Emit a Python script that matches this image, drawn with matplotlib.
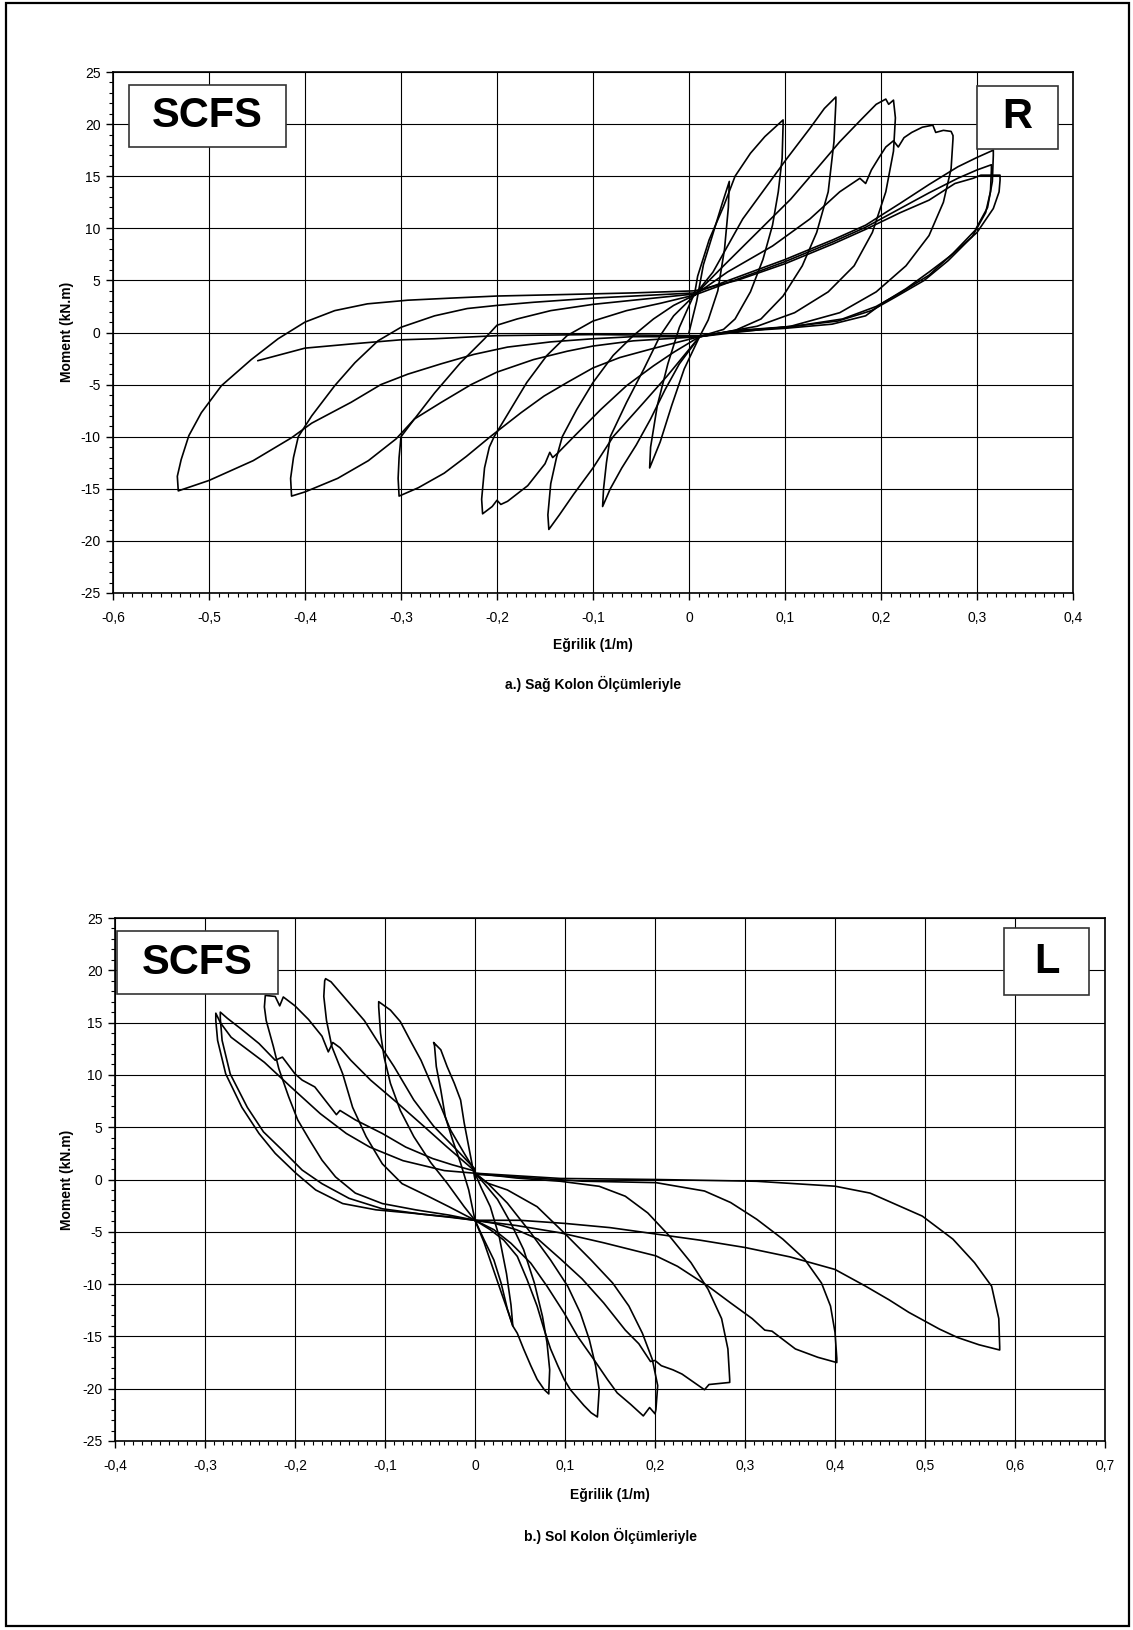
import matplotlib
matplotlib.use("Agg")
import matplotlib.pyplot as plt
from matplotlib.patches import Rectangle
from matplotlib.ticker import MultipleLocator, FuncFormatter

plt.rcParams['font.family'] = ['Liberation Sans', 'DejaVu Sans']
plt.rcParams['axes.unicode_minus'] = False

# ---- top chart (R): curvature (1/m) and moment (kN.m), one list pair per cycle
r1_k = [0.0, 0.008, 0.015, 0.025, 0.035, 0.042,
        0.041, 0.037, 0.030, 0.020, 0.011,
        -0.005, -0.018, -0.030, -0.041,
        -0.040, -0.033, -0.022, -0.010, 0.006]
r1_m = [0.0, 3.0, 6.5, 9.5, 12.5, 14.5,
        12.0, 8.0, 4.0, 1.2, -0.4,
        -3.5, -7.0, -10.5, -13.0,
        -11.0, -7.0, -3.0, 0.5, 3.8]

r2_k = [0.006, 0.009, 0.021, 0.036, 0.048, 0.064, 0.079, 0.098,
        0.098, 0.097, 0.093, 0.087, 0.077, 0.064, 0.048, 0.036, 0.011,
        -0.010, -0.025, -0.040, -0.055, -0.070, -0.082, -0.090,
        -0.089, -0.086, -0.082, -0.065, -0.047, -0.030, -0.016, 0.006]
r2_m = [3.8, 5.4, 8.9, 12.1, 15.0, 17.2, 18.8, 20.4,
        19.9, 16.7, 13.5, 10.3, 7.0, 3.9, 1.3, 0.3, -0.4,
        -3.0, -5.5, -8.3, -10.8, -13.0, -15.0, -16.7,
        -15.0, -12.5, -10.0, -6.7, -3.5, -0.3, 1.6, 3.6]

r3_k = [0.006, 0.025, 0.056, 0.079, 0.102, 0.126, 0.141, 0.153,
        0.153, 0.151, 0.145, 0.133, 0.118, 0.098, 0.075, 0.048, 0.011,
        -0.023, -0.047, -0.079, -0.100, -0.120, -0.135, -0.146,
        -0.147, -0.144, -0.138, -0.132, -0.117, -0.100, -0.079, -0.058, -0.037, -0.016, 0.006]
r3_m = [3.6, 5.8, 10.9, 13.8, 16.7, 19.6, 21.5, 22.6,
        22.1, 18.3, 13.5, 9.6, 6.4, 3.5, 1.3, 0.2, -0.4,
        -4.2, -6.7, -10.0, -13.0, -15.5, -17.5, -18.9,
        -17.5, -14.5, -12.0, -10.0, -7.4, -4.8, -2.2, -0.3, 1.3, 2.6, 3.6]

r4_k = [0.006, 0.036, 0.071, 0.106, 0.133, 0.157, 0.180, 0.195, 0.205, 0.208, 0.213,
        0.215, 0.213, 0.205, 0.191, 0.172, 0.145, 0.110, 0.071, 0.011,
        -0.016, -0.037, -0.065, -0.092, -0.120, -0.137, -0.142, -0.145, -0.150, -0.168,
        -0.189, -0.196, -0.200, -0.205, -0.215,
        -0.216, -0.213, -0.208, -0.203, -0.186, -0.169, -0.148, -0.127, -0.100, -0.065, -0.030, 0.006]
r4_m = [3.6, 6.4, 9.6, 12.8, 15.7, 18.3, 20.5, 21.9, 22.4, 21.9, 22.3,
        20.6, 17.4, 13.5, 9.6, 6.4, 3.9, 1.9, 0.6, -0.4,
        -1.9, -3.2, -5.1, -7.4, -10.0, -11.6, -12.0, -11.5, -12.6, -14.7,
        -16.2, -16.5, -16.1, -16.7, -17.4,
        -16.0, -13.0, -11.0, -10.0, -7.4, -4.8, -2.2, -0.3, 1.1, 2.1, 2.8, 3.6]

r5_k = [0.006, 0.040, 0.087, 0.126, 0.157, 0.178, 0.184, 0.190, 0.198, 0.205, 0.213, 0.218,
        0.224, 0.232, 0.243, 0.254, 0.257, 0.265, 0.273, 0.275,
        0.275, 0.273, 0.265, 0.250, 0.226, 0.195, 0.157, 0.106, 0.048, 0.011,
        -0.040, -0.072, -0.100, -0.127, -0.151, -0.175, -0.207, -0.232, -0.255, -0.282, -0.302,
        -0.303, -0.302, -0.300, -0.286, -0.265, -0.238, -0.213, -0.200, -0.179, -0.144, -0.100,
        -0.058, 0.006]
r5_m = [3.6, 5.8, 8.3, 10.9, 13.5, 14.8, 14.3, 15.6, 16.8, 17.8, 18.4, 17.8,
        18.7, 19.2, 19.7, 19.9, 19.2, 19.4, 19.3, 18.9,
        18.6, 15.7, 12.5, 9.3, 6.4, 3.9, 1.9, 0.6, 0.0, -0.4,
        -1.6, -2.4, -3.4, -4.8, -6.1, -7.7, -10.0, -11.9, -13.5, -14.9, -15.7,
        -14.0, -12.0, -10.0, -8.3, -5.8, -2.9, -0.6, 0.7, 1.3, 2.1, 2.7,
        3.1, 3.7]

r6_k = [0.006, 0.050, 0.100, 0.150, 0.184, 0.220, 0.250, 0.280, 0.300, 0.317,
        0.317, 0.316, 0.311, 0.298, 0.275, 0.250, 0.220, 0.195, 0.160, 0.110, 0.050, 0.011,
        -0.058, -0.100, -0.127, -0.162, -0.200, -0.227, -0.258, -0.286, -0.305, -0.334, -0.366,
        -0.400, -0.414,
        -0.415, -0.412, -0.407, -0.393, -0.369, -0.348, -0.324, -0.300, -0.265, -0.231, -0.200,
        -0.162, -0.100, 0.006]
r6_m = [3.8, 5.3, 7.0, 8.9, 10.3, 12.4, 14.2, 15.9, 16.8, 17.5,
        17.0, 14.5, 12.0, 9.8, 7.6, 5.5, 3.8, 2.5, 1.3, 0.6, 0.2, -0.4,
        -0.8, -1.3, -1.8, -2.6, -3.8, -5.0, -6.7, -8.3, -10.2, -12.3, -14.0,
        -15.3, -15.7,
        -14.0, -12.0, -10.0, -8.0, -5.1, -2.9, -0.8, 0.5, 1.6, 2.3, 2.6,
        2.9, 3.3, 3.8]

r7_k = [0.006, 0.050, 0.100, 0.150, 0.184, 0.220, 0.250, 0.280, 0.300, 0.315,
        0.315, 0.314, 0.309, 0.295, 0.270, 0.245, 0.215, 0.190, 0.155, 0.100, 0.050, 0.011,
        -0.058, -0.100, -0.144, -0.189, -0.224, -0.258, -0.293, -0.321, -0.352, -0.393, -0.414,
        -0.454, -0.500, -0.532,
        -0.533, -0.529, -0.521, -0.508, -0.487, -0.456, -0.428, -0.400, -0.369, -0.335, -0.293,
        -0.248, -0.200, -0.127, -0.058, 0.006]
r7_m = [3.6, 5.1, 6.8, 8.7, 10.1, 11.9, 13.4, 14.8, 15.6, 16.1,
        15.6, 13.5, 11.5, 9.2, 6.9, 5.0, 3.4, 2.1, 1.1, 0.5, 0.15, -0.4,
        -0.4, -0.6, -0.9, -1.4, -2.1, -3.0, -4.0, -5.0, -6.7, -8.7, -10.1,
        -12.3, -14.2, -15.2,
        -13.8, -12.2, -9.9, -7.7, -5.1, -2.6, -0.6, 1.0, 2.1, 2.75, 3.1,
        3.3, 3.5, 3.65, 3.8, 4.0]

r8_k = [0.006, 0.050, 0.100, 0.150, 0.184, 0.220, 0.250, 0.277, 0.296, 0.304, 0.324,
        0.324, 0.323, 0.317, 0.300, 0.273, 0.250, 0.226, 0.203, 0.184, 0.149, 0.100, 0.048, 0.011,
        -0.100, -0.200, -0.265, -0.300, -0.352, -0.400, -0.449]
r8_m = [4.0, 5.0, 6.6, 8.5, 9.9, 11.5, 12.7, 14.3, 14.8, 15.1, 15.1,
        14.6, 13.5, 11.9, 9.6, 7.4, 5.8, 4.2, 2.9, 1.6, 0.8, 0.4, 0.1, -0.3,
        -0.2, -0.3, -0.6, -0.7, -1.1, -1.5, -2.7]

# ---- bottom chart (L)
l1_k = [0.0, -0.007, -0.012, -0.016, -0.023, -0.031, -0.038, -0.046,
        -0.045, -0.043, -0.038, -0.033, -0.025, -0.016, -0.007, 0.0,
        0.010, 0.020, 0.030, 0.037, 0.042,
        0.040, 0.035, 0.027, 0.017, 0.007, 0.0]
l1_m = [0.0, 3.15, 5.4, 7.6, 9.2, 10.8, 12.4, 13.1,
        12.8, 10.8, 8.55, 6.0, 3.8, 1.56, -0.99, -3.9,
        -6.0, -8.5, -11.0, -12.7, -14.0,
        -12.0, -9.0, -5.5, -2.6, -0.8, 0.6]

l2_k = [0.0, -0.012, -0.027, -0.038, -0.049, -0.060, -0.072, -0.083, -0.094, -0.107,
        -0.107, -0.105, -0.101, -0.094, -0.083, -0.068, -0.049, -0.031, -0.012, 0.0,
        0.010, 0.021, 0.029, 0.036, 0.042, 0.047, 0.054, 0.062, 0.069, 0.077, 0.082,
        0.082, 0.083, 0.080, 0.075, 0.066, 0.054, 0.040, 0.025, 0.010, 0.0]
l2_m = [0.8, 2.5, 4.7, 7.0, 9.2, 11.4, 13.3, 15.1, 16.2, 17.0,
        16.5, 14.0, 11.7, 9.2, 6.6, 4.1, 1.6, -0.35, -2.6, -3.9,
        -5.75, -7.7, -9.9, -12.4, -14.0, -14.7, -16.2, -17.8, -19.1, -20.1, -20.5,
        -20.2, -18.2, -15.6, -13.1, -9.9, -6.7, -4.2, -1.9, -0.35, 0.6]

l3_k = [0.0, -0.020, -0.046, -0.068, -0.090, -0.109, -0.123, -0.142, -0.160, -0.166,
        -0.167, -0.168, -0.165, -0.159, -0.147, -0.136, -0.121, -0.103, -0.081, -0.051, -0.029, 0.0,
        0.017, 0.032, 0.047, 0.058, 0.069, 0.077, 0.084, 0.092, 0.099, 0.106, 0.114, 0.121,
        0.129, 0.136,
        0.138, 0.134, 0.127, 0.117, 0.103, 0.084, 0.062, 0.036, 0.014, 0.0]
l3_m = [1.0, 2.8, 5.1, 7.6, 10.8, 13.3, 15.2, 17.1, 18.9, 19.2,
        19.0, 17.5, 15.2, 12.7, 10.1, 6.9, 4.1, 1.5, -0.4, -1.65, -2.6, -3.9,
        -4.8, -5.8, -7.35, -9.6, -12.1, -14.4, -16.2, -17.8, -19.1, -20.1, -20.9, -21.6,
        -22.3, -22.7,
        -20.1, -17.8, -15.3, -12.75, -10.2, -7.7, -5.1, -2.26, -0.35, 0.6]

l4_k = [0.0, -0.031, -0.057, -0.086, -0.116, -0.138, -0.150, -0.158, -0.163, -0.170, -0.185,
        -0.200, -0.213, -0.217, -0.222, -0.233,
        -0.234, -0.232, -0.224, -0.218, -0.207, -0.197, -0.184, -0.170, -0.155, -0.133, -0.103,
        -0.066, -0.029, 0.0,
        0.021, 0.040, 0.062, 0.080, 0.099, 0.114, 0.132, 0.147, 0.158, 0.173, 0.187, 0.194, 0.200,
        0.201, 0.203, 0.197, 0.186, 0.171, 0.153, 0.129, 0.099, 0.069, 0.036, 0.014, 0.0]
l4_m = [0.8, 3.1, 5.1, 7.3, 9.5, 11.4, 12.6, 13.1, 12.2, 13.7, 15.3,
        16.6, 17.45, 16.6, 17.5, 17.6,
        16.5, 15.2, 12.7, 10.6, 7.9, 5.7, 3.8, 1.85, 0.25, -1.3, -2.3,
        -2.9, -3.4, -3.9,
        -4.8, -6.1, -8.0, -10.2, -12.75, -15.0, -17.2, -19.1, -20.4, -21.5, -22.6, -21.8, -22.4,
        -22.0, -19.7, -17.2, -14.7, -12.1, -9.9, -7.7, -5.1, -2.6, -1.0, -0.35, 0.6]

l5_k = [0.0, -0.034, -0.080, -0.117, -0.143, -0.172, -0.204, -0.234, -0.271, -0.283, -0.288,
        -0.288, -0.286, -0.277, -0.259, -0.240, -0.222, -0.199, -0.177, -0.147, -0.110, -0.066,
        -0.029, 0.0,
        0.022, 0.046, 0.070, 0.095, 0.119, 0.143, 0.167, 0.182, 0.195, 0.200, 0.207, 0.220, 0.230,
        0.245, 0.255, 0.260, 0.283,
        0.283, 0.281, 0.274, 0.259, 0.240, 0.216, 0.192, 0.167, 0.138, 0.095, 0.046, 0.0]
l5_m = [0.6, 0.85, 1.8, 3.1, 4.4, 6.3, 8.8, 11.2, 13.6, 15.0, 15.9,
        15.2, 13.3, 10.1, 6.9, 4.4, 2.5, 0.6, -1.0, -2.3, -2.9, -3.25,
        -3.6, -3.9,
        -4.2, -4.8, -5.7, -7.6, -9.5, -11.8, -14.4, -15.7, -17.4, -17.3, -17.8, -18.2, -18.6,
        -19.5, -20.1, -19.6, -19.4,
        -19.1, -16.2, -13.3, -10.5, -7.95, -5.4, -3.2, -1.6, -0.65, -0.17, 0.14, 0.6]

l6_k = [0.0, -0.025, -0.047, -0.077, -0.103, -0.133, -0.150, -0.154, -0.178, -0.192, -0.200,
        -0.214, -0.222, -0.240, -0.260, -0.275, -0.283,
        -0.283, -0.281, -0.272, -0.253, -0.235, -0.214, -0.192, -0.170, -0.140, -0.103, -0.060,
        -0.025, 0.0,
        0.046, 0.095, 0.143, 0.201, 0.225, 0.259, 0.284, 0.308, 0.322, 0.330, 0.356, 0.381, 0.402,
        0.402, 0.400, 0.395, 0.385, 0.366, 0.342, 0.313, 0.284, 0.255, 0.201, 0.119, 0.0]
l6_m = [0.8, 1.4, 2.0, 3.1, 4.4, 5.7, 6.6, 6.2, 8.85, 9.5, 10.1,
        11.7, 11.4, 13.0, 14.4, 15.4, 16.0,
        15.4, 13.3, 10.1, 6.9, 4.55, 2.8, 0.9, -0.4, -1.8, -2.8, -3.3,
        -3.6, -3.9,
        -4.4, -5.1, -6.05, -7.3, -8.3, -10.2, -11.8, -13.3, -14.4, -14.5, -16.2, -17.0, -17.5,
        -17.1, -14.6, -12.1, -9.9, -7.6, -5.7, -3.8, -2.2, -1.1, -0.3, -0.16, 0.5]

l7_k = [0.0, 0.050, 0.100, 0.150, 0.200, 0.250, 0.300, 0.350, 0.400, 0.434, 0.460, 0.482,
        0.516, 0.536, 0.560, 0.583,
        0.583, 0.582, 0.574, 0.555, 0.531, 0.497, 0.439, 0.400, 0.313, 0.201, 0.095, 0.0]
l7_m = [-3.9, -3.9, -4.2, -4.6, -5.2, -5.8, -6.5, -7.4, -8.6, -10.2, -11.5, -12.7,
        -14.3, -15.1, -15.8, -16.3,
        -16.0, -13.3, -10.2, -7.95, -5.7, -3.5, -1.3, -0.64, -0.17, 0.0, 0.1, 0.6]

W, H = 1133, 1630
fig = plt.figure(figsize=(W / 100, H / 100), dpi=100)


def px_axes(left, top, right, bottom):
    return fig.add_axes([left / W, 1 - bottom / H, (right - left) / W, (bottom - top) / H])


def comma(v, pos):
    if abs(v) < 1e-9:
        return "0"
    return f"{v:.1f}".replace(".", ",")


def style(ax, xmin, xmax):
    ax.set_xlim(xmin, xmax)
    ax.set_ylim(-25, 25)
    ax.xaxis.set_major_locator(MultipleLocator(0.1))
    ax.xaxis.set_minor_locator(MultipleLocator(0.01))
    ax.yaxis.set_major_locator(MultipleLocator(5))
    ax.yaxis.set_minor_locator(MultipleLocator(1))
    ax.xaxis.set_major_formatter(FuncFormatter(comma))
    ax.grid(True, which='major', color='black', lw=0.8)
    ax.set_axisbelow(True)
    ax.tick_params(which='major', direction='out', length=5, width=1, labelsize=10)
    ax.tick_params(which='minor', direction='out', length=3, width=0.8)
    ax.tick_params(axis='x', which='major', pad=8)
    ax.tick_params(axis='y', which='major', pad=4)
    for s in ax.spines.values():
        s.set_linewidth(1.2)


def px_box(x0, y0, x1, y1, label):
    fig.add_artist(Rectangle((x0 / W, 1 - y1 / H), (x1 - x0) / W, (y1 - y0) / H,
                             transform=fig.transFigure, facecolor='white',
                             edgecolor='#333333', lw=1.2, zorder=5))
    fig.text((x0 + x1) / 2 / W, 1 - (y0 + y1) / 2 / H, label, ha='center', va='center',
             fontsize=30, fontweight='bold', zorder=6)


def px_text(x, y, s, **kw):
    fig.text(x / W, 1 - y / H, s, ha='center', va='center', fontsize=10,
             fontweight='bold', **kw)


# top chart
ax1 = px_axes(113, 72, 1073, 593)
style(ax1, -0.6, 0.4)
for k, m in [(r1_k, r1_m), (r2_k, r2_m), (r3_k, r3_m), (r4_k, r4_m),
             (r5_k, r5_m), (r6_k, r6_m), (r7_k, r7_m), (r8_k, r8_m)]:
    ax1.plot(k, m, color='black', lw=1.2, solid_joinstyle='round')
px_text(67, 332, 'Moment (kN.m)', rotation=90)
px_text(593, 645, 'Eğrilik (1/m)')
px_text(593, 684, 'a.) Sağ Kolon Ölçümleriyle')
px_box(129, 85, 286, 147, 'SCFS')
px_box(977, 86, 1058, 149, 'R')

# bottom chart
ax2 = px_axes(115, 918, 1105, 1441)
style(ax2, -0.4, 0.7)
for k, m in [(l1_k, l1_m), (l2_k, l2_m), (l3_k, l3_m), (l4_k, l4_m),
             (l5_k, l5_m), (l6_k, l6_m), (l7_k, l7_m)]:
    ax2.plot(k, m, color='black', lw=1.2, solid_joinstyle='round')
px_text(67, 1180, 'Moment (kN.m)', rotation=90)
px_text(610, 1495, 'Eğrilik (1/m)')
px_text(610, 1536, 'b.) Sol Kolon Ölçümleriyle')
px_box(117, 931, 278, 994, 'SCFS')
px_box(1004, 928, 1089, 995, 'L')

# outer frame
fig.add_artist(Rectangle((6 / W, 1 - 1626 / H), 1123 / W, 1623 / H, transform=fig.transFigure,
                         fill=False, edgecolor='black', lw=1.6, zorder=7))

fig.savefig('out.png', dpi=100)
